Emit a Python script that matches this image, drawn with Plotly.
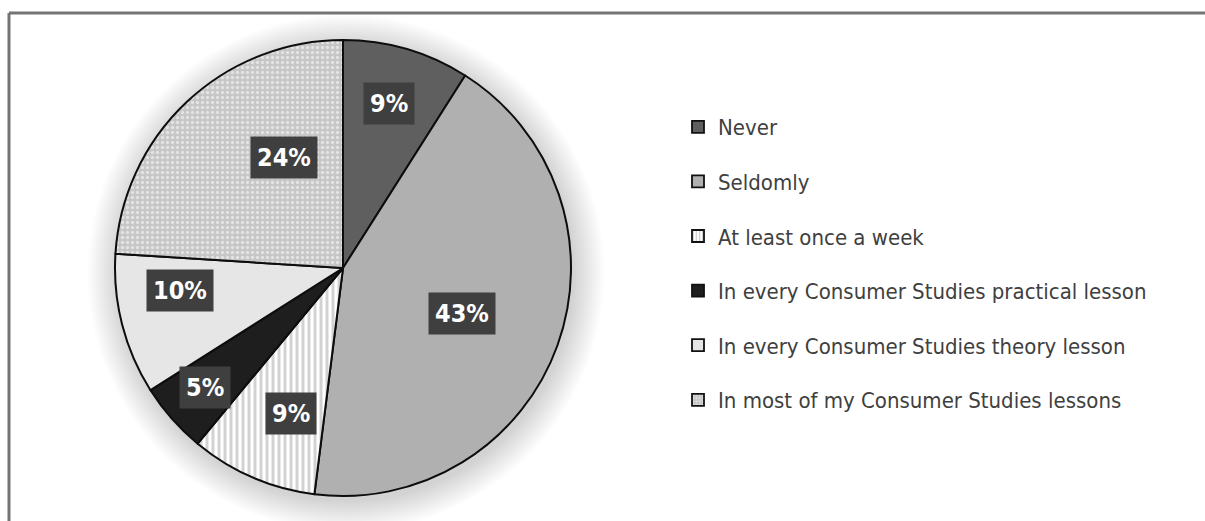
import math
import plotly.graph_objects as go

# Survey responses: how often the item is used
categories = [
    "Never",
    "Seldomly",
    "At least once a week",
    "In every Consumer Studies practical lesson",
    "In every Consumer Studies theory lesson",
    "In most of my Consumer Studies lessons",
]
percentages = [9, 43, 9, 5, 10, 24]

# Slice styling (grayscale fills and patterns)
fills = ["#5f5f5f", "#b0b0b0", "#ffffff", "#1e1e1e", "#e6e6e6", "#c6c6c6"]
pattern_shapes = ["", "", "|", "", "", "."]
pattern_fg = ["#5f5f5f", "#b0b0b0", "#a6a6a6", "#1e1e1e", "#e6e6e6", "#ffffff"]
pattern_size = [6, 6, 6, 6, 6, 5]
pattern_solidity = [0.3, 0.3, 0.5, 0.3, 0.3, 0.35]

# Label placement along each slice (fraction of radius, angular nudge in degrees)
label_radius = [0.75, 0.56, 0.68, 0.80, 0.72, 0.55]
label_turn = [-0.6, 1.0, -3.7, 0.4, 6.4, 15.0]

W, H = 1205, 521
CX, CY, R = 343, 268, 228  # pie centre / radius in pixels

pie_domain_x = [(CX - R) / W, (CX + R) / W]
pie_domain_y = [1 - (CY + R) / H, 1 - (CY - R) / H]

NARROW = "DejaVu Sans Condensed, Liberation Sans Narrow, Arial Narrow, Liberation Sans, Arial"

fig = go.Figure()

fig.add_trace(go.Pie(
    labels=categories,
    values=percentages,
    sort=False,
    direction="clockwise",
    rotation=0,
    textinfo="none",
    hoverinfo="label+percent",
    showlegend=False,
    domain=dict(x=pie_domain_x, y=pie_domain_y),
    marker=dict(
        colors=fills,
        line=dict(color="#0d0d0d", width=2),
        pattern=dict(
            shape=pattern_shapes,
            fgcolor=pattern_fg,
            bgcolor=fills,
            size=pattern_size,
            solidity=pattern_solidity,
            fillmode="overlay",
        ),
    ),
))

# Legend entries (legend-only bars carrying the same fills)
for i, name in enumerate(categories):
    fig.add_trace(go.Bar(
        x=[None], y=[None],
        name=name,
        legendgroup=f"g{i}",
        marker=dict(
            color=fills[i],
            line=dict(color="#111111", width=1.8),
            pattern=dict(
                shape=pattern_shapes[i],
                fgcolor=pattern_fg[i],
                bgcolor=fills[i],
                size=4,
                solidity=pattern_solidity[i],
                fillmode="overlay",
            ),
        ),
        hoverinfo="skip",
    ))

# Soft, wide drop shadow behind the pie
shapes = []
for k in range(22):
    grow = 1 + k * 1.4
    shapes.append(dict(
        type="circle", xref="paper", yref="paper", layer="below",
        x0=(CX + 3 - R - grow) / W, x1=(CX + 3 + R + grow) / W,
        y0=1 - (CY + 5 + R + grow) / H, y1=1 - (CY + 5 - R - grow) / H,
        fillcolor="rgba(0,0,0,0.0065)", line=dict(width=0),
    ))

# Percentage labels in dark boxes, placed at each slice's mid-angle
total = sum(percentages)
cum = 0
annotations = []
for i, v in enumerate(percentages):
    mid = (cum + v / 2) / total * 360 + label_turn[i]
    cum += v
    a = math.radians(mid)
    px = CX + R * label_radius[i] * math.sin(a)
    py = CY - R * label_radius[i] * math.cos(a)
    annotations.append(dict(
        x=px / W, y=1 - py / H, xref="paper", yref="paper",
        text=f"<b>{v}%</b>", showarrow=False,
        font=dict(family=NARROW, size=25, color="#ffffff"),
        bgcolor="#3f3f3f", borderpad=6,
        xanchor="center", yanchor="middle",
    ))

# Frame lines along the top and left edges
shapes += [
    dict(type="line", xref="paper", yref="paper", x0=9 / W, x1=1.0, y0=1 - 13 / H, y1=1 - 13 / H,
         line=dict(color="#747474", width=3)),
    dict(type="line", xref="paper", yref="paper", x0=9 / W, x1=9 / W, y0=1 - 13 / H, y1=0,
         line=dict(color="#747474", width=3)),
]

fig.update_layout(
    width=W, height=H,
    margin=dict(l=0, r=0, t=0, b=0),
    paper_bgcolor="#ffffff",
    plot_bgcolor="rgba(0,0,0,0)",
    xaxis=dict(visible=False, domain=[0.9, 0.91]),
    yaxis=dict(visible=False),
    annotations=annotations,
    shapes=shapes,
    legend=dict(
        x=678 / W, y=1 - 106 / H, xanchor="left", yanchor="top",
        font=dict(family=NARROW, size=22, color="#404040"),
        tracegroupgap=23,
        itemclick=False, itemdoubleclick=False,
        bgcolor="rgba(0,0,0,0)",
    ),
    showlegend=True,
)

fig.write_html("out.html")
